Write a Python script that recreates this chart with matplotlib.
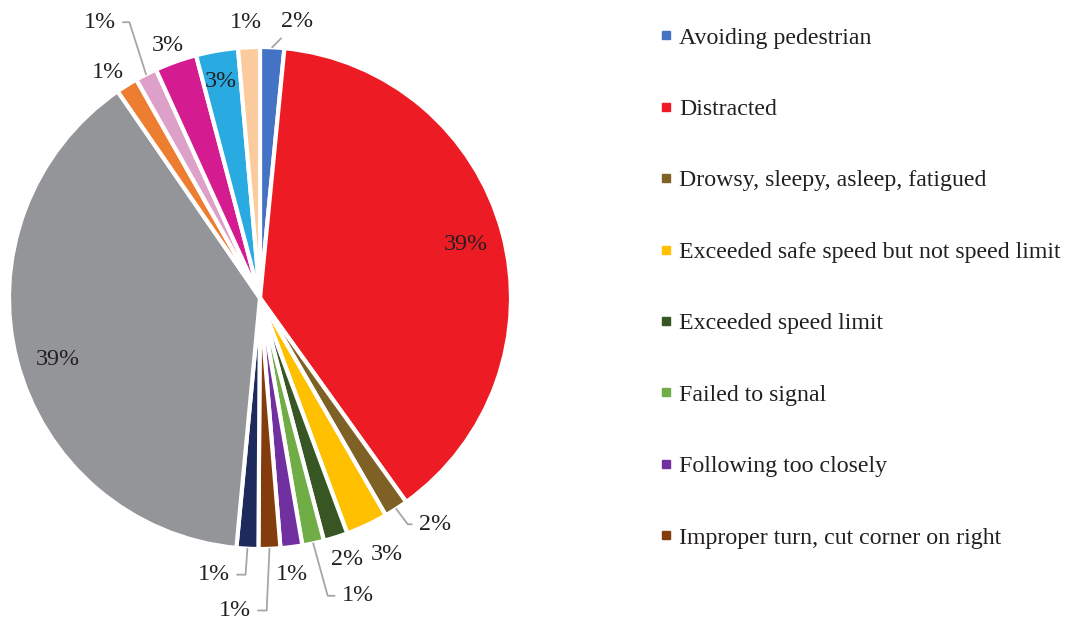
import numpy as np
import matplotlib
matplotlib.use("Agg")
import matplotlib.pyplot as plt
from matplotlib.lines import Line2D

# ---------------- data ----------------
legend_labels = [
    "Avoiding pedestrian",
    "Distracted",
    "Drowsy, sleepy, asleep, fatigued",
    "Exceeded safe speed but not speed limit",
    "Exceeded speed limit",
    "Failed to signal",
    "Following too closely",
    "Improper turn, cut corner on right",
]
# share of each slice (percent), clockwise from the top
values = [1.55, 38.55, 1.55, 2.7, 1.55, 1.4, 1.4, 1.4, 1.4, 38.9, 1.4, 1.4, 2.7, 2.7, 1.4]
colors = ["#4472C4", "#ED1C24", "#7F6125", "#FFC000", "#375623", "#70AD47",
          "#7030A0", "#843C0C", "#1F2A5C", "#939598", "#ED7D31", "#DDA0C8",
          "#D41B8F", "#29ABE2", "#FBCB9E"]

# ---------------- layout ----------------
W, H = 1071, 620
CX, CY, R = 260, H - 298, 251
# label placement: polar (degrees clockwise from top, distance in px)
label_pos = [(7.6, 281), (74.8, 213), (142.0, 284), (153.4, 284), (161.4, 273),
             (161.7, 311), (173.3, 276), (184.6, 311), (189.5, 278), (253.8, 211),
             (326.3, 274), (330.1, 321), (340.2, 271), (349.9, 222), (357.1, 278)]
LABEL_DY = -2.5
# leader lines: slice index -> angle of the segment leaving the slice (None = straight)
leaders = {0: None, 2: -53, 5: -74.6, 7: -92.6, 8: -94, 11: 107.7}

TXT = "#231F20"
plt.rcParams['font.family'] = ['Liberation Serif', 'DejaVu Serif']
FS = 17.3
LFS = 17.2

fig = plt.figure(figsize=(W / 100, H / 100), dpi=100)
ax = fig.add_axes([0, 0, 1, 1])
ax.set_xlim(0, W)
ax.set_ylim(0, H)
ax.set_aspect('equal')
ax.axis('off')

wedges, _ = ax.pie(values, colors=colors, startangle=90, counterclock=False,
                   center=(CX, CY), radius=R,
                   wedgeprops=dict(edgecolor='white', linewidth=3))
ax.set_xlim(0, W)
ax.set_ylim(0, H)

total = sum(values)
for i, (w, v) in enumerate(zip(wedges, values)):
    pct = v / total * 100
    txt = f"{pct:.0f}%"
    ang, dist = label_pos[i]
    a = np.deg2rad(ang)
    tx, ty = CX + dist * np.sin(a), CY + dist * np.cos(a) + LABEL_DY
    mid = np.pi / 2 - np.deg2rad((w.theta1 + w.theta2) / 2)
    px, py = CX + R * np.sin(mid), CY + R * np.cos(mid)
    if i in leaders:
        angB = leaders[i]
        if angB is None:
            cs = "arc3"
        else:
            cs = f"angle,angleA=0,angleB={angB},rad=0"
        ax.annotate(txt, xy=(px, py), xytext=(tx, ty), fontsize=FS, color=TXT,
                    ha='center', va='center',
                    arrowprops=dict(arrowstyle='-', color='#A6A6A6', lw=1.3,
                                    connectionstyle=cs, shrinkA=3, shrinkB=0))
    else:
        ax.text(tx, ty, txt, fontsize=FS, color=TXT, ha='center', va='center')

handles = [Line2D([], [], marker='s', linestyle='', markersize=6,
                  markerfacecolor=colors[i], markeredgecolor=colors[i])
           for i in range(len(legend_labels))]
leg = fig.legend(handles, legend_labels, loc='upper left',
                 bbox_to_anchor=(647 / W, 1 - 15 / H), frameon=False,
                 fontsize=LFS, labelcolor=TXT, handlelength=0.6,
                 handletextpad=0.25, labelspacing=2.08, borderpad=0)

fig.savefig("out.png", dpi=100)
